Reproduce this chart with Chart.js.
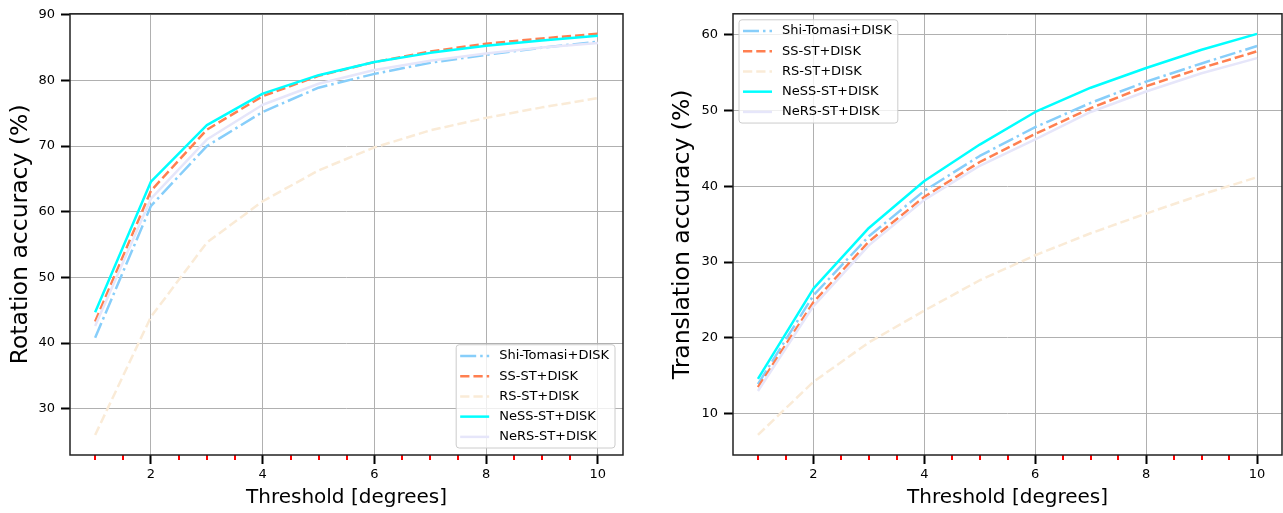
<!DOCTYPE html>
<html><head><meta charset="utf-8">
<script src="https://cdn.jsdelivr.net/npm/chart.js@4"></script>
<style>
html,body{margin:0;padding:0;background:#fff;width:1283px;height:513px;overflow:hidden;}
.w{position:absolute;top:0;height:513px;}
</style></head><body>
<div class="w" style="left:0;width:640px"><canvas id="c1" width="640" height="513"></canvas></div>
<div class="w" style="left:663px;width:620px"><canvas id="c2" width="620" height="513"></canvas></div>
<script>
// ---------- data ----------
const thresholds = [1, 2, 3, 4, 5, 6, 7, 8, 9, 10];
const seriesNames = ['Shi-Tomasi+DISK', 'SS-ST+DISK', 'RS-ST+DISK', 'NeSS-ST+DISK', 'NeRS-ST+DISK'];

const shiTomasiRot = [40.8, 60.9, 70.0, 75.2, 78.9, 81.0, 82.7, 83.9, 85.0, 85.9];
const ssStRot      = [43.3, 63.2, 72.5, 77.6, 80.7, 82.8, 84.4, 85.6, 86.4, 87.1];
const rsStRot      = [26.0, 44.0, 55.3, 61.6, 66.3, 69.8, 72.4, 74.3, 75.9, 77.3];
const nessStRot    = [44.7, 64.6, 73.2, 78.0, 80.8, 82.8, 84.2, 85.3, 86.1, 86.8];
const nersStRot    = [42.6, 62.0, 71.0, 76.3, 79.5, 81.6, 83.0, 84.1, 85.0, 85.7];

const shiTomasiTrans = [13.9, 25.6, 33.4, 39.4, 44.0, 47.8, 51.0, 53.8, 56.2, 58.5];
const ssStTrans      = [13.5, 24.7, 32.7, 38.6, 43.2, 46.9, 50.3, 53.2, 55.6, 57.8];
const rsStTrans      = [7.2, 14.2, 19.4, 23.6, 27.6, 30.9, 33.8, 36.4, 38.9, 41.2];
const nessStTrans    = [14.6, 26.5, 34.5, 40.7, 45.5, 49.8, 53.0, 55.6, 58.0, 60.1];
const nersStTrans    = [13.0, 24.2, 32.2, 38.2, 42.7, 46.2, 49.8, 52.5, 54.9, 56.9];

const xMajorTicks = [2, 4, 6, 8, 10];
const xMinorTicks = [1, 1.5, 2.5, 3, 3.5, 4.5, 5, 5.5, 6.5, 7, 7.5, 8.5, 9, 9.5];
const rotYTicks = [30, 40, 50, 60, 70, 80, 90];
const transYTicks = [10, 20, 30, 40, 50, 60];

// ---------- styles ----------
const FONT = 'DejaVu Sans';
Chart.defaults.font.family = FONT;
Chart.defaults.color = '#000';

const styles = [
  {color: '#87CEFA', dash: [16, 4, 2.5, 4]},
  {color: '#FF7F50', dash: [9.25, 4]},
  {color: '#FAEBD7', dash: [9.25, 4]},
  {color: '#00FFFF', dash: []},
  {color: '#E6E6FA', dash: []}
];

function makeDatasets(arrs) {
  return arrs.map((arr, i) => ({
    label: seriesNames[i],
    data: thresholds.map((t, j) => ({x: t, y: arr[j]})),
    borderColor: styles[i].color,
    backgroundColor: styles[i].color,
    borderDash: styles[i].dash,
    borderWidth: 2.5,
    pointRadius: 0,
    tension: 0,
    fill: false,
    borderJoinStyle: 'round',
    order: arrs.length - i
  }));
}

const framePlugin = {
  id: 'frame',
  afterDatasetsDraw(chart) {
    const {ctx, chartArea: a, scales: {x}} = chart;
    ctx.save();
    // minor x ticks (red)
    ctx.strokeStyle = '#ff0000';
    ctx.lineWidth = 2;
    xMinorTicks.forEach(v => {
      const px = Math.round(x.getPixelForValue(v));
      ctx.beginPath(); ctx.moveTo(px, a.bottom); ctx.lineTo(px, a.bottom + 5); ctx.stroke();
    });
    // spines
    ctx.strokeStyle = '#222';
    ctx.lineWidth = 1.5;
    ctx.strokeRect(a.left, a.top, a.right - a.left, a.bottom - a.top);
    // legend
    const o = chart.options.plugins.boxLegend;
    ctx.font = '13px "' + FONT + '"';
    const ds = chart.data.datasets;
    let maxW = 0;
    ds.forEach(d => { maxW = Math.max(maxW, ctx.measureText(d.label).width); });
    const rowH = 20.25;
    const boxW = 43 + maxW + 6;
    const boxH = ds.length * rowH + 2;
    let left, top;
    if (o.corner === 'br') { left = a.right - o.dx - boxW; top = a.bottom - o.dy - boxH; }
    else { left = a.left + o.dx; top = a.top + o.dy; }
    ctx.beginPath();
    ctx.roundRect(left, top, boxW, boxH, 3);
    ctx.fillStyle = 'rgba(255,255,255,0.8)';
    ctx.fill();
    ctx.strokeStyle = '#cccccc';
    ctx.lineWidth = 1;
    ctx.stroke();
    ds.forEach((d, i) => {
      const cy = top + 1 + rowH * (i + 0.5);
      ctx.beginPath();
      ctx.setLineDash(d.borderDash || []);
      ctx.strokeStyle = d.borderColor;
      ctx.lineWidth = d.borderWidth;
      ctx.moveTo(left + 4, cy); ctx.lineTo(left + 33, cy);
      ctx.stroke();
      ctx.setLineDash([]);
      ctx.fillStyle = '#000';
      ctx.textBaseline = 'middle';
      ctx.textAlign = 'left';
      ctx.fillText(d.label, left + 43, cy);
    });
    ctx.restore();
  }
};

function makeChart(id, arrs, yTicks, yMin, yMax, yTitle, legendPos, padding, yTitlePad) {
  return new Chart(document.getElementById(id), {
    type: 'line',
    data: {datasets: makeDatasets(arrs)},
    plugins: [framePlugin],
    options: {
      responsive: false,
      animation: false,
      layout: {padding: padding},
      plugins: {legend: {display: false}, tooltip: {enabled: false}, boxLegend: legendPos},
      scales: {
        x: {
          type: 'linear', min: 0.55, max: 10.45,
          afterBuildTicks: s => { s.ticks = xMajorTicks.map(v => ({value: v})); },
          afterFit: s => { s.height = 58; },
          ticks: {font: {size: 13}, padding: 3, color: '#000'},
          grid: {color: '#b0b0b0', lineWidth: 1, tickColor: '#000', tickWidth: 2, tickLength: 9, drawTicks: true},
          border: {display: false},
          title: {display: true, text: 'Threshold [degrees]', font: {size: 20}, color: '#000', padding: {top: 4, bottom: 3}}
        },
        y: {
          type: 'linear', min: yMin, max: yMax,
          afterBuildTicks: s => { s.ticks = yTicks.map(v => ({value: v})); },
          afterFit: s => { s.width = 70; },
          ticks: {font: {size: 13}, padding: 6, color: '#000'},
          grid: {color: '#b0b0b0', lineWidth: 1, tickColor: '#000', tickWidth: 2, tickLength: 9, drawTicks: true},
          border: {display: false},
          title: {display: true, text: yTitle, font: {size: 23.5}, color: '#000', padding: {top: yTitlePad, bottom: 2}}
        }
      }
    }
  });
}

makeChart('c1', [shiTomasiRot, ssStRot, rsStRot, nessStRot, nersStRot], rotYTicks, 22.95, 90.15,
  'Rotation accuracy (%)', {corner: 'br', dx: 8, dy: 7}, {left: 0, right: 17, top: 12, bottom: 0}, 7);
makeChart('c2', [shiTomasiTrans, ssStTrans, rsStTrans, nessStTrans, nersStTrans], transYTicks, 4.55, 62.75,
  'Translation accuracy (%)', {corner: 'tl', dx: 6, dy: 6}, {left: 0, right: 1, top: 12, bottom: 0}, 6);
</script>
</body></html>
